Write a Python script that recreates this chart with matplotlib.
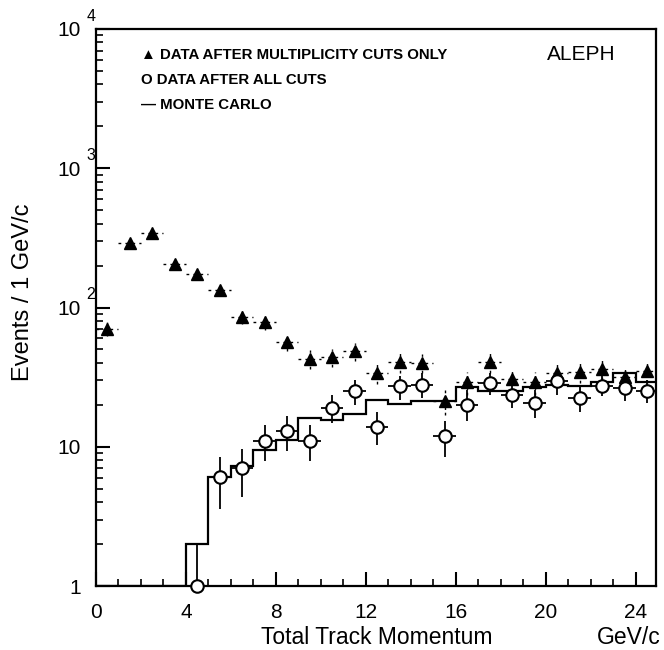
import numpy as np
import matplotlib
matplotlib.use("Agg")
import matplotlib.pyplot as plt
from matplotlib.ticker import FixedLocator, NullFormatter
from matplotlib.transforms import offset_copy

plt.rcParams['font.family'] = ['Liberation Sans', 'DejaVu Sans']

# Bin edges (GeV/c) and centres
bin_edges = np.arange(0, 26, 1)
bin_centres = bin_edges[:-1] + 0.5

# Data after multiplicity cuts only
mult_vals = [70.6, 292, 344, 206, 173, 133, 85.7, 78.4, 56.3, 42.7, 44, 48.5,
             33.9, 40.4, 40, 21.4, 29, 40.4, 30.8, 29, 33.9, 34.4, 36.2, 31.7, 34.8]
mult_err = [8, 17, 18, 14, 13, 11, 9, 9, 7.5, 6.5, 6.6, 7,
            5.8, 6.4, 6.3, 4.6, 5.4, 6.4, 5.5, 5.4, 5.8, 5.9, 6, 5.6, 5.9]

# Data after all cuts (starts at 4.5 GeV/c)
all_x = bin_centres[4:]
all_vals = [1.0, 6.05, 7.0, 11.0, 13.0, 11.0, 19.0, 25.3, 13.9, 27.2, 27.9, 11.9,
            19.8, 28.8, 23.7, 20.6, 29.5, 22.4, 27.2, 26.4, 25.3]
all_hi = [2.04, 8.5, 9.7, 14.3, 16.5, 14.3, 23.7, 30.4, 17.9, 32, 34, 15.2,
          25.7, 34, 28.5, 25.7, 34.8, 27.2, 32, 32, 30.4]
all_lo = [1.0, 3.56, 4.39, 7.85, 9.36, 7.85, 14.8, 20.0, 10.35, 21.8, 22.4, 8.43,
          15.2, 23.7, 19, 16.1, 23.7, 17.9, 23, 21.2, 20.6]

# Monte Carlo expectation per bin
mc_vals = [1, 1, 1, 1, 2.0, 6.1, 7.3, 9.4, 11.2, 16.1, 15.6, 17.2,
           21.5, 20.4, 21.4, 21.4, 26.7, 25.2, 25.0, 26.8, 27.7, 27.2, 29.2, 34.0, 29.0]

# Axis tick positions and labels
x_ticks = [0, 4, 8, 12, 16, 20, 24]
y_ticks = [1, 10, 100, 1000, 10000]
y_tick_labels = ['1', '10', '10', '10', '10']
y_tick_exponents = ['', '', '2', '3', '4']

fig = plt.figure(figsize=(6.64, 6.5), dpi=100)
ax = fig.add_axes([96/664, 1-586/650, (656-96)/664, (586-29)/650])
ax.set_yscale('log')
ax.set_xlim(0, 24.9)
ax.set_ylim(1, 1e4)

# Monte Carlo histogram
ax.stairs(mc_vals, bin_edges, color='black', lw=1.6)

# Multiplicity-cut data: filled triangles, dashed bin-width bars
eb = ax.errorbar(bin_centres, mult_vals, yerr=mult_err, xerr=0.5, fmt='^',
                 color='black', ms=9, elinewidth=1.0, capsize=0, zorder=4)
eb[2][0].set_linestyle((0, (2, 3)))
eb[2][1].set_linestyle((0, (2, 2)))

# All-cuts data: open circles
yerr = [np.array(all_vals) - np.array(all_lo), np.array(all_hi) - np.array(all_vals)]
eb2 = ax.errorbar(all_x, all_vals, yerr=yerr, xerr=0.5, fmt='o', color='black',
                  mfc='white', mec='black', mew=1.5, ms=9, elinewidth=1.3,
                  capsize=0, zorder=5)
eb2[0].set_clip_on(False)

# Axes styling
for s in ax.spines.values():
    s.set_linewidth(1.6)
ax.xaxis.set_major_locator(FixedLocator(x_ticks))
ax.xaxis.set_minor_locator(FixedLocator(np.arange(0, 25, 1)))
ax.set_xticklabels([str(t) for t in x_ticks])
ax.tick_params(axis='both', which='major', direction='in', length=10, width=1.5,
               labelsize=15)
ax.tick_params(axis='both', which='minor', direction='in', length=5, width=1.2)
ax.tick_params(axis='x', pad=12)
ax.tick_params(axis='y', pad=11)
ax.yaxis.set_major_locator(FixedLocator(y_ticks))
ax.set_yticklabels(y_tick_labels)
ax.yaxis.set_minor_formatter(NullFormatter())

# Raised exponents on the power-of-ten labels
exp_tr = offset_copy(ax.get_yaxis_transform(), fig=fig, x=0, y=6.0, units='points')
for yv, e in zip(y_ticks, y_tick_exponents):
    if e:
        ax.text(-0.017, yv, e, transform=exp_tr, fontsize=11.5, ha='left',
                va='baseline', clip_on=False)

# Axis titles
fig.text(377/664, 1-637/650, 'Total Track Momentum', ha='center', va='center',
         fontsize=16.5)
fig.text(629/664, 1-637/650, 'GeV/c', ha='center', va='center', fontsize=16.5)
fig.text(23/664, 1-292/650, 'Events / 1 GeV/c', rotation=90, ha='center',
         va='center', fontsize=17)

# Legend block
leg_kw = dict(transform=ax.transAxes, fontsize=10.8, fontweight='bold',
              va='center', ha='left')
ax.text(0.080, 1-(55-29)/557, '\u25B2 DATA AFTER MULTIPLICITY CUTS ONLY', **leg_kw)
ax.text(0.080, 1-(80-29)/557, 'O DATA AFTER ALL CUTS', **leg_kw)
ax.text(0.080, 1-(105-29)/557, '\u2014 MONTE CARLO', **leg_kw)
ax.text((581-96)/560, 1-(55-29)/557, 'ALEPH', transform=ax.transAxes, fontsize=15,
        va='center', ha='center')

fig.savefig('out.png', dpi=100)
